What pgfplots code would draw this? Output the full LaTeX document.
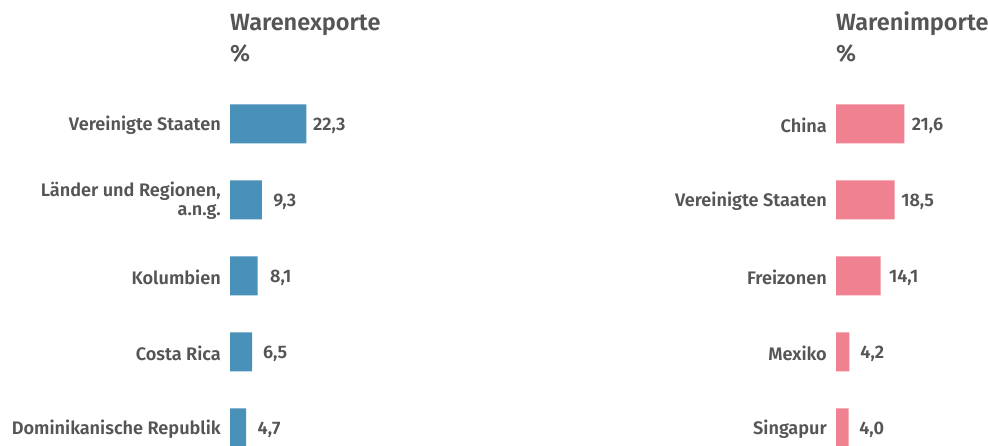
\documentclass[border=0pt]{standalone}
\usepackage{pgfplots}
\pgfplotsset{compat=1.18}
\usepackage{fontspec}
\setmainfont{Fira Sans}[BoldFont = * SemiBold]
\definecolor{txt}{HTML}{555555}
\definecolor{expc}{HTML}{4A91B9}
\definecolor{impc}{HTML}{F08191}
\pgfplotsset{mybar/.style={
  scale only axis, xbar, y dir=reverse, ymin=-0.5, ymax=4.237, height=360bp,
  bar width=39bp, xmin=0, xmax=30, axis line style={draw=none}, xtick=\empty,
  ytick={0,1,2,3,4}, major tick length=0pt, enlargelimits=false, clip=true,
  yticklabel style={anchor=east, align=right, inner sep=0pt, xshift=-9bp, yshift=-1bp,
    font=\bfseries\fontsize{18.2}{19}\selectfont, text=txt},
  nodes near coords={\pgfmathprintnumber[assume math mode=true,use comma,fixed,fixed zerofill,precision=1]{\pgfplotspointmeta}},
  nodes near coords style={anchor=center, inner sep=0pt, xshift=23bp, yshift=-1.5bp,
    font=\bfseries\fontsize{18.2}{19}\selectfont, text=txt},
  title style={at={(0,1)}, anchor=south west, align=left, inner sep=0pt, yshift=17bp,
    font=\bfseries\fontsize{23.6}{32}\selectfont, text=txt},
}}
\begin{document}
\begin{tikzpicture}
\useasboundingbox (0,0) rectangle (988bp,446bp);
\begin{axis}[mybar, at={(230bp,0bp)}, anchor=south west, width=102.6bp,
  title={Warenexporte\\\%},
  yticklabels={Vereinigte Staaten, {Länder und Regionen,\\a.n.g.}, Kolumbien, Costa Rica, Dominikanische Republik}]
\addplot[fill=expc, draw=none] coordinates {(22.3,0) (9.3,1) (8.1,2) (6.5,3) (4.7,4)};
\end{axis}
\begin{axis}[mybar, at={(836bp,0bp)}, anchor=south west, width=95.1bp,
  title={Warenimporte\\\%},
  yticklabels={China, Vereinigte Staaten, Freizonen, Mexiko, Singapur}]
\addplot[fill=impc, draw=none] coordinates {(21.6,0) (18.5,1) (14.1,2) (4.2,3) (4.0,4)};
\end{axis}
\end{tikzpicture}
\end{document}
